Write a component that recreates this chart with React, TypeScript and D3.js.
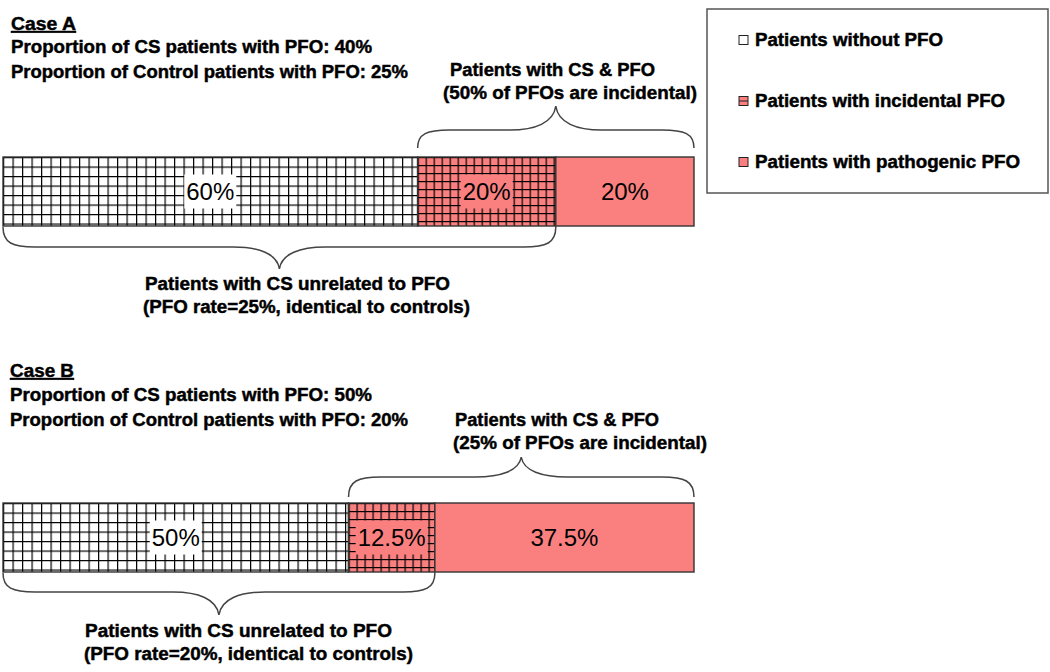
import React from "react";
import * as d3 from "d3";

// ---- data ----
const caseNames = ["Case A", "Case B"];
const withoutPFO = [60, 50];
const incidentalPFO = [20, 12.5];
const pathogenicPFO = [20, 37.5];
const csPFORate = [40, 50];
const controlPFORate = [25, 20];
const incidentalShare = [50, 25];
const legendLabels = ["Patients without PFO", "Patients with incidental PFO", "Patients with pathogenic PFO"];

// ---- layout ----
const W = 1050, H = 672;
const RED = "#FA8080";
const FONT = "'Liberation Sans', Arial, sans-serif";
const x = d3.scaleLinear().domain([0, 100]).range([3, 694]);

interface CaseLayout {
  barTop: number; barH: number;
  titleY: number; line1Y: number; line2Y: number; textX: number;
  topTextX1: number; topTextX2: number; topTextY1: number; topTextY2: number;
  topW1: number; topW2: number;
  topBrace: [number, number, number]; // yEnd, yMid, yTip
  botBrace: [number, number, number];
  botTextX1: number; botTextX2: number; botTextY1: number; botTextY2: number;
  botW1: number; botW2: number;
  line1W: number; line2W: number; titleW: number;
}

const layouts: CaseLayout[] = [
  {
    barTop: 157, barH: 69,
    titleY: 30, line1Y: 53, line2Y: 78, textX: 11,
    titleW: 65, line1W: 361, line2W: 397,
    topTextX1: 450, topTextX2: 443, topTextY1: 76, topTextY2: 99, topW1: 205, topW2: 254,
    topBrace: [148, 130, 106],
    botBrace: [227, 247, 269],
    botTextX1: 145, botTextX2: 143, botTextY1: 290, botTextY2: 313, botW1: 305, botW2: 327,
  },
  {
    barTop: 503, barH: 69,
    titleY: 377, line1Y: 401, line2Y: 426, textX: 10,
    titleW: 64, line1W: 362, line2W: 398,
    topTextX1: 455, topTextX2: 453, topTextY1: 426, topTextY2: 449, topW1: 204, topW2: 254,
    topBrace: [497, 477, 457],
    botBrace: [573, 592, 615],
    botTextX1: 85, botTextX2: 84, botTextY1: 637, botTextY2: 660, botW1: 307, botW2: 329,
  },
];

function bracePath(x0: number, x1: number, yEnd: number, yMid: number, yTip: number): string {
  const xm = (x0 + x1) / 2;
  const r = 32, w = 46;
  const p = d3.path();
  p.moveTo(x0, yEnd);
  p.bezierCurveTo(x0, yEnd + 0.8 * (yMid - yEnd), x0 + 0.3 * r, yMid, x0 + r, yMid);
  p.lineTo(xm - w, yMid);
  p.bezierCurveTo(xm - 0.45 * w, yMid, xm - 0.05 * w, yMid + 0.3 * (yTip - yMid), xm, yTip);
  p.bezierCurveTo(xm + 0.05 * w, yMid + 0.3 * (yTip - yMid), xm + 0.45 * w, yMid, xm + w, yMid);
  p.lineTo(x1 - r, yMid);
  p.bezierCurveTo(x1 - 0.3 * r, yMid, x1, yEnd + 0.8 * (yMid - yEnd), x1, yEnd);
  return p.toString();
}

function labelWidth(s: string, size: number): number {
  let w = 0;
  for (const c of s) {
    if (c === "%") w += 0.889;
    else if (c === ".") w += 0.278;
    else w += 0.556;
  }
  return w * size;
}

const BoldText = ({ x: tx, y, w, children, underline }: any) => (
  <text
    x={tx}
    y={y}
    fontFamily={FONT}
    fontWeight="bold"
    fontSize={18}
    textLength={w}
    lengthAdjust="spacingAndGlyphs"
    textDecoration={underline ? "underline" : undefined}
    fill="#000"
    stroke="#000"
    strokeWidth={0.45}
  >
    {children}
  </text>
);

export default function App() {
  const labelSize = 24;
  return (
    <svg width={W} height={H} style={{ position: "absolute", left: 0, top: 0, background: "#fff" }}>
      <defs>
        {layouts.map((L, i) => (
          <React.Fragment key={i}>
            <pattern id={`gridW${i}`} patternUnits="userSpaceOnUse" width={9.5} height={9.5} x={x(0)} y={L.barTop}>
              <rect width={9.5} height={9.5} fill="#fff" />
              <line x1={0.6} y1={0} x2={0.6} y2={9.5} stroke="#000" strokeWidth={1.2} />
              <line x1={0} y1={0.6} x2={9.5} y2={0.6} stroke="#000" strokeWidth={1.2} />
            </pattern>
            <pattern id={`gridR${i}`} patternUnits="userSpaceOnUse" width={8} height={8} x={x(withoutPFO[i])} y={L.barTop}>
              <rect width={8} height={8} fill={RED} />
              <line x1={0.6} y1={0} x2={0.6} y2={8} stroke="#000" strokeWidth={1.2} />
              <line x1={0} y1={0.6} x2={8} y2={0.6} stroke="#000" strokeWidth={1.2} />
            </pattern>
          </React.Fragment>
        ))}
      </defs>

      {layouts.map((L, i) => {
        const segs = [
          { v0: 0, v1: withoutPFO[i], fill: `url(#gridW${i})`, bg: "#fff" },
          { v0: withoutPFO[i], v1: withoutPFO[i] + incidentalPFO[i], fill: `url(#gridR${i})`, bg: RED },
          { v0: withoutPFO[i] + incidentalPFO[i], v1: withoutPFO[i] + incidentalPFO[i] + pathogenicPFO[i], fill: RED, bg: RED },
        ];
        const yc = L.barTop + L.barH / 2;
        return (
          <g key={i}>
            <BoldText x={L.textX} y={L.titleY} w={L.titleW} underline>{caseNames[i]}</BoldText>
            <BoldText x={L.textX} y={L.line1Y} w={L.line1W}>{`Proportion of CS patients with PFO: ${csPFORate[i]}%`}</BoldText>
            <BoldText x={L.textX} y={L.line2Y} w={L.line2W}>{`Proportion of Control patients with PFO: ${controlPFORate[i]}%`}</BoldText>

            <BoldText x={L.topTextX1} y={L.topTextY1} w={L.topW1}>Patients with CS &amp; PFO</BoldText>
            <BoldText x={L.topTextX2} y={L.topTextY2} w={L.topW2}>{`(${incidentalShare[i]}% of PFOs are incidental)`}</BoldText>

            {segs.map((s, j) => (
              <rect key={j} x={x(s.v0)} y={L.barTop} width={x(s.v1) - x(s.v0)} height={L.barH}
                fill={s.fill} stroke="#333" strokeWidth={1.4} />
            ))}
            {segs.map((s, j) => {
              const label = `${s.v1 - s.v0}%`;
              const cx = (x(s.v0) + x(s.v1)) / 2;
              const lw = labelWidth(label, labelSize);
              return (
                <g key={`l${j}`}>
                  {j < 2 && <rect x={cx - lw / 2 - 2} y={yc - 17} width={lw + 4} height={34} fill={s.bg} />}
                  <text x={cx} y={yc + 8.6} textAnchor="middle" fontFamily={FONT} fontSize={labelSize} fill="#000">{label}</text>
                </g>
              );
            })}

            <path d={bracePath(x(withoutPFO[i]), x(100), L.topBrace[0], L.topBrace[1], L.topBrace[2])}
              fill="none" stroke="#444" strokeWidth={1.5} />
            <path d={bracePath(x(0), x(withoutPFO[i] + incidentalPFO[i]), L.botBrace[0], L.botBrace[1], L.botBrace[2])}
              fill="none" stroke="#444" strokeWidth={1.5} />

            <BoldText x={L.botTextX1} y={L.botTextY1} w={L.botW1}>Patients with CS unrelated to PFO</BoldText>
            <BoldText x={L.botTextX2} y={L.botTextY2} w={L.botW2}>{`(PFO rate=${controlPFORate[i]}%, identical to controls)`}</BoldText>
          </g>
        );
      })}

      {/* legend */}
      <rect x={707} y={9} width={341} height={184} fill="#fff" stroke="#555" strokeWidth={1.5} />
      {legendLabels.map((lab, k) => {
        const cy = 40 + k * 61;
        const widths = [188, 250, 265];
        return (
          <g key={k}>
            <rect x={739} y={cy - 4.5} width={9} height={9} fill={k === 0 ? "#fff" : RED} stroke="#222" strokeWidth={1} />
            {k === 1 && <line x1={739} x2={748} y1={cy} y2={cy} stroke="#222" strokeWidth={1} />}
            <BoldText x={755} y={cy + 6} w={widths[k]}>{lab}</BoldText>
          </g>
        );
      })}
    </svg>
  );
}
